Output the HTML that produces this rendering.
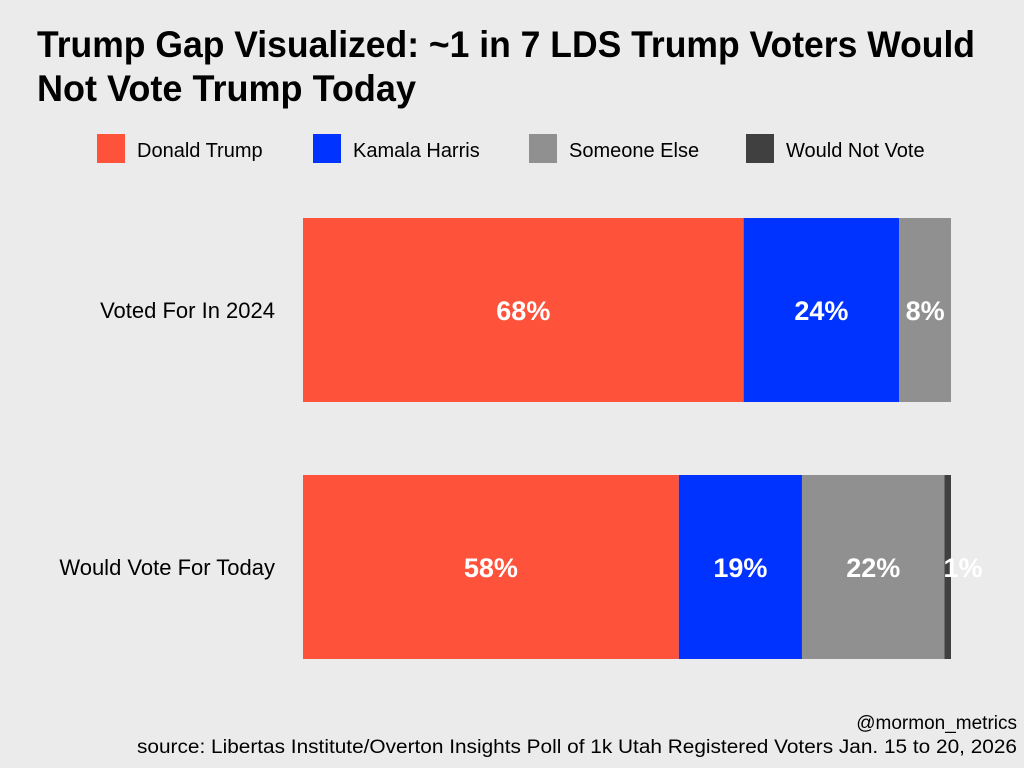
<!DOCTYPE html>
<html><head><meta charset="utf-8"><style>
html,body{margin:0;padding:0;background:#EBEBEB;}
svg{display:block;font-family:"Liberation Sans",sans-serif;}
</style></head><body>
<svg id="c" width="1024" height="768" viewBox="0 0 1024 768">
<rect width="1024" height="768" fill="#EBEBEB"/>
<text x="37" y="57" font-size="37" font-weight="bold" fill="#000" textLength="938" lengthAdjust="spacingAndGlyphs">Trump Gap Visualized: ~1 in 7 LDS Trump Voters Would</text>
<text x="37" y="101" font-size="37" font-weight="bold" fill="#000" textLength="379" lengthAdjust="spacingAndGlyphs">Not Vote Trump Today</text>
<g id="legend"></g>
<g id="bars"></g>
<text x="1017" y="729" font-size="19" text-anchor="end" fill="#000">@mormon_metrics</text>
<text x="1017" y="753" font-size="19" text-anchor="end" fill="#000" textLength="880" lengthAdjust="spacingAndGlyphs">source: Libertas Institute/Overton Insights Poll of 1k Utah Registered Voters Jan. 15 to 20, 2026</text>
</svg>
<script>
const categories = ["Voted For In 2024", "Would Vote For Today"];
const seriesNames = ["Donald Trump", "Kamala Harris", "Someone Else", "Would Not Vote"];
const trumpVals = [68, 58];
const harrisVals = [24, 19];
const elseVals = [8, 22];
const notVoteVals = [0, 1];
const colors = ["#FF523B", "#0033FF", "#909090", "#404040"];
const seriesVals = [trumpVals, harrisVals, elseVals, notVoteVals];

const NS = "http://www.w3.org/2000/svg";
const x0 = 303, xw = 648;
const xScale = v => x0 + v / 100 * xw;
const rowTop = [218, 475], barH = 184;
const yScale = i => rowTop[0] + i * (rowTop[1] - rowTop[0]);
function mk(tag, attrs, parent){const e=document.createElementNS(NS,tag);for(const k in attrs)e.setAttribute(k,attrs[k]);parent.appendChild(e);return e;}

const legend = document.getElementById("legend");
const legX = [97, 313, 529, 746];
seriesNames.forEach((n, i) => {
  const r = mk("rect", {x: legX[i], y: 134, width: 28, height: 29, fill: colors[i]}, legend);
  
  
  const t = mk("text", {x: legX[i] + 40, y: 157, "font-size": 20, fill: "#000"}, legend);
  t.textContent = n;
  
  
});

const bars = document.getElementById("bars");
categories.forEach((c, i) => {
  const y = yScale(i);
  const lab = mk("text", {x: 275, y: y + barH / 2 + 8, "font-size": 22, "text-anchor": "end", fill: "#000"}, bars);
  lab.textContent = c;
  
  
  let cum = 0;
  seriesVals.forEach((arr, s) => {
    const v = arr[i];
    if (v <= 0) return;
    const xa = xScale(cum), xb = xScale(cum + v);
    const r = mk("rect", {x: xa, y: y, width: xb - xa, height: barH, fill: colors[s]}, bars);
    
    
    let cx = (xa + xb) / 2;
    if (xb - xa < 20) cx = xb + 12;
    const t = mk("text", {x: cx, y: y + barH / 2 + 10, "font-size": 27, "font-weight": "bold", "text-anchor": "middle", fill: "#fff"}, bars);
    t.textContent = v + "%";
    
    
    cum += v;
  });
});
</script>
</body></html>
